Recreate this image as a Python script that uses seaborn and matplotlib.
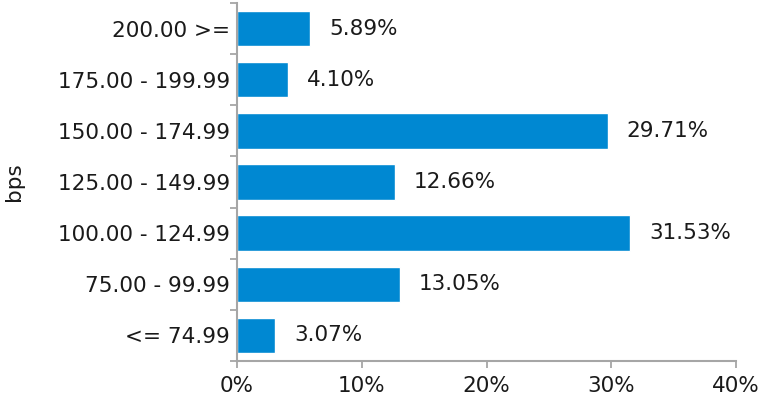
import pandas as pd
import matplotlib
matplotlib.use("Agg")
import matplotlib.pyplot as plt
import seaborn as sns
from matplotlib.ticker import FixedLocator, PercentFormatter

# bucket labels, top to bottom
buckets = ['200.00 >=', '175.00 - 199.99', '150.00 - 174.99', '125.00 - 149.99',
           '100.00 - 124.99', '75.00 - 99.99', '<= 74.99']
shares = [5.89, 4.10, 29.71, 12.66, 31.53, 13.05, 3.07]
x_ticks = [0, 10, 20, 30, 40]

df = pd.DataFrame({'bucket': buckets, 'share': shares})

sns.set_style('white')
plt.rcParams['font.family'] = ['DejaVu Sans']

bar_color = '#0088D2'
axis_color = '#A6A6A6'
fs = 15.5

fig = plt.figure(figsize=(7.69, 4.01), dpi=100)
ax = fig.add_axes([237 / 769, 1 - 361 / 401, (736 - 237) / 769, 358 / 401])

sns.barplot(data=df, x='share', y='bucket', orient='h', color=bar_color,
            width=0.69, saturation=1, ax=ax)

ax.bar_label(ax.containers[0], labels=[f'{v:.2f}%' for v in shares],
             padding=13.5, fontsize=fs, color='#1a1a1a')

ax.set_xlim(0, 40)
ax.set_ylim(len(buckets) - 0.5, -0.5)
ax.set_xticks(x_ticks)
ax.xaxis.set_major_formatter(PercentFormatter(decimals=0))

# tick marks at the category boundaries, labels at centres
ax.yaxis.set_minor_locator(FixedLocator([i - 0.5 for i in range(len(buckets) + 1)]))
ax.tick_params(axis='y', which='major', length=0, pad=5, labelsize=fs, labelcolor='#1a1a1a')
ax.tick_params(axis='y', which='minor', length=5, width=1.3, color=axis_color, left=True)
ax.tick_params(axis='x', which='major', length=5, width=1.3, color=axis_color, bottom=True,
               pad=6, labelsize=fs, labelcolor='#1a1a1a')

ax.set_xlabel('')
ax.set_ylabel('bps', fontsize=fs, color='#1a1a1a')
ax.yaxis.set_label_coords((24 - 237) / 499, 0.5)

sns.despine(ax=ax)
for side in ['left', 'bottom']:
    ax.spines[side].set_color(axis_color)
    ax.spines[side].set_linewidth(1.5)
ax.grid(False)

fig.savefig('out.png', dpi=100)
